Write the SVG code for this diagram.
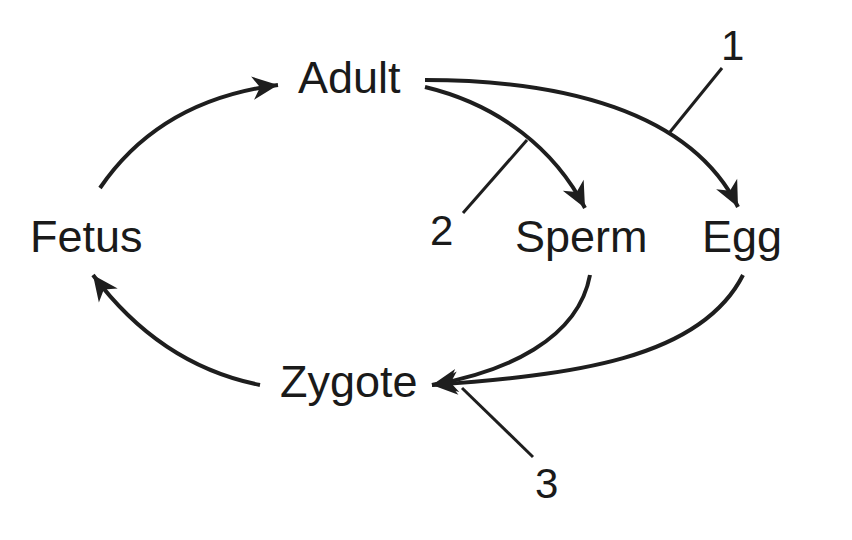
<svg xmlns="http://www.w3.org/2000/svg" width="852" height="540" viewBox="0 0 852 540">
<style>
.lbl{font-family:"Liberation Sans",Arial,sans-serif;font-size:45px;fill:#1a1a1a}
.num{font-family:"Liberation Sans",Arial,sans-serif;font-size:42px;fill:#1a1a1a}
.c{fill:none;stroke:#1e1e1e;stroke-width:4}
.t{fill:none;stroke:#1e1e1e;stroke-width:3}
</style>
<defs>
<marker id="ah" markerUnits="userSpaceOnUse" markerWidth="32" markerHeight="32" viewBox="-2 -13 30 26" refX="24" refY="0" orient="auto">
<path d="M0,-11 L24,0 L0,11 L7,0 Z" fill="#1e1e1e"/>
</marker>
</defs>
<rect width="852" height="540" fill="#fff"/>
<g id="adult"><text class="lbl" x="298" y="93">Adult</text></g>
<g id="fetus"><text class="lbl" x="30" y="252">Fetus</text></g>
<g id="sperm"><text class="lbl" x="515" y="252">Sperm</text></g>
<g id="egg"><text class="lbl" x="702" y="252">Egg</text></g>
<g id="zygote"><text class="lbl" x="280" y="397">Zygote</text></g>
<g id="labels">
<text class="num" x="721" y="60">1</text>
<text class="num" x="430" y="245">2</text>
<text class="num" x="535" y="498">3</text>
</g>
<g id="connectors">
<path class="c" d="M100,188 Q160,100 278,85" marker-end="url(#ah)"/>
<path class="c" d="M260,385 Q160,365 93,275" marker-end="url(#ah)"/>
<path class="c" d="M425,80 C560,80 690,110 738,207" marker-end="url(#ah)"/>
<path class="c" d="M425,87 C500,105 555,150 585,208" marker-end="url(#ah)"/>
<path class="c" d="M590,275 C578,340 505,372 432,385" marker-end="url(#ah)"/>
<path class="c" d="M743,275 C700,360 570,375 432,385" marker-end="url(#ah)"/>
<path class="t" d="M722,68 L670,132"/>
<path class="t" d="M527,140 L463,213"/>
<path class="t" d="M462,388 L533,457"/>
</g>
</svg>
